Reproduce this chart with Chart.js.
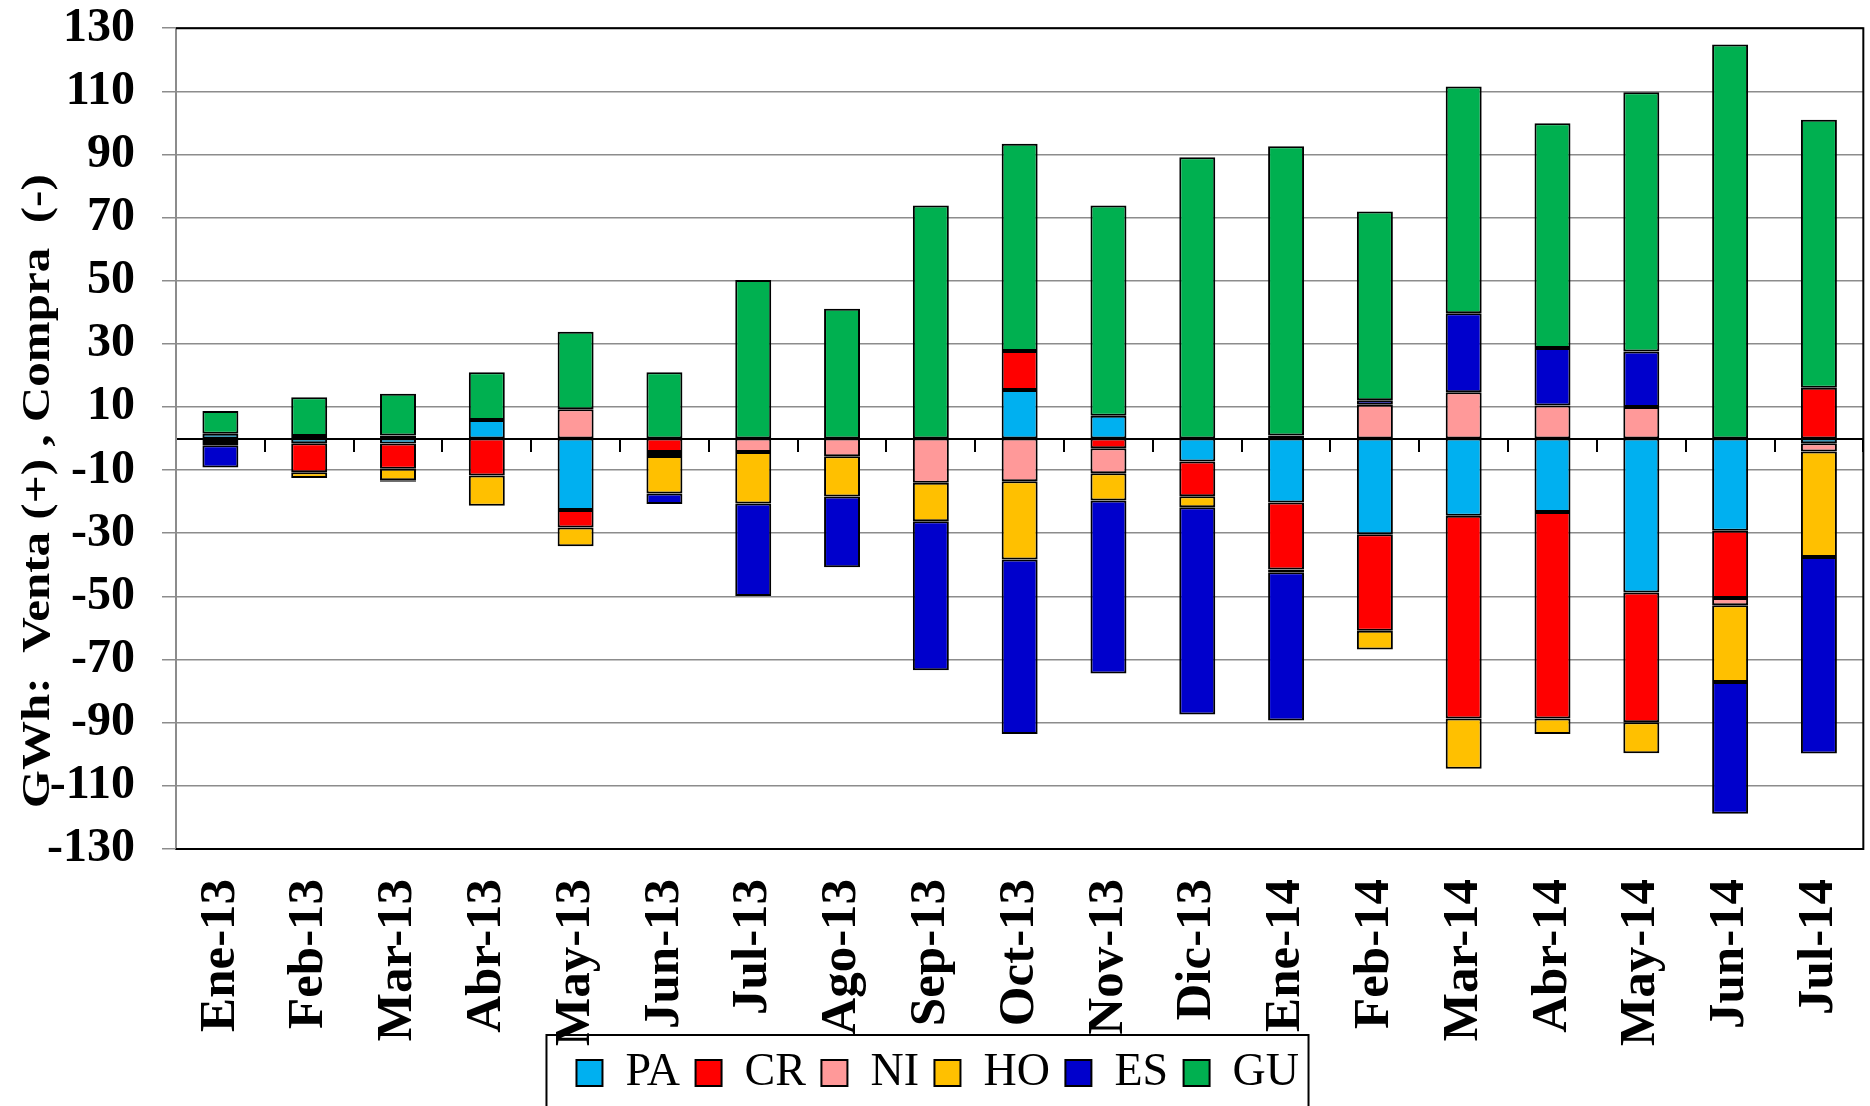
<!DOCTYPE html>
<html>
<head>
<meta charset="utf-8">
<script src="https://cdn.jsdelivr.net/npm/chart.js@4.4.1/dist/chart.umd.min.js"></script>
<style>
    html, body { margin: 0; padding: 0; background: #fff; }
    #contenedor { width: 1870px; height: 1106px; position: relative; }
</style>
</head>
<body>
<div id="contenedor"><canvas id="graficoIntercambios"></canvas></div>
<script>
// Intercambios regionales por país, GWh (venta +, compra -)
const meses = ['Ene-13', 'Feb-13', 'Mar-13', 'Abr-13', 'May-13', 'Jun-13', 'Jul-13', 'Ago-13', 'Sep-13', 'Oct-13',
    'Nov-13', 'Dic-13', 'Ene-14', 'Feb-14', 'Mar-14', 'Abr-14', 'May-14', 'Jun-14', 'Jul-14'];

const valoresPA = [1.5, -1.5, -1.6, 5.9, -22.6, null, null, null, null, 15.4, 7.2, -7.3, -20.3, -30.3, -24.5, -23.3, -48.8, -29.2, -1.5];
const valoresCR = [-1.1, -9.2, -8.0, -11.7, -5.6, -4.3, null, null, null, 12.3, -3.1, -11.0, -21.2, -30.6, -64.2, -65.4, -41.1, -21.3, 16.1];
const valoresNI = [-1.0, null, 1.0, null, 9.3, -1.2, -4.3, -5.6, -14.0, -13.5, -7.9, null, 1.0, 10.7, 14.7, 10.5, 10.0, -2.3, -2.6];
const valoresHO = [null, -1.8, -3.6, -9.6, -5.9, -11.9, -16.3, -12.8, -12.2, -24.8, -8.6, -3.5, -0.9, -5.9, -15.9, -4.9, -9.8, -24.3, -33.4];
const valoresES = [-7.1, 0.8, -0.5, null, null, -3.3, -29.3, -22.4, -47.2, -55.3, -54.8, -65.6, -46.9, 1.4, 25.0, 18.2, 17.6, -41.8, -62.3];
const valoresGU = [7.2, 12.3, 13.2, 15.1, 24.5, 21.0, 50.2, 41.1, 73.8, 65.7, 66.6, 89.1, 91.6, 59.8, 71.8, 71.2, 82.1, 124.8, 84.9];

const textoEjeY = 'GWh:  Venta (+) , Compra  (-)';

// Título del eje Y (estirado como en el original)
const tituloEjeY = {
    id: 'tituloEjeY',
    afterDraw(chart) {
        const ctx = chart.ctx;
        const area = chart.chartArea;
        ctx.save();
        ctx.font = 'bold 41px "Liberation Serif"';
        const ancho = ctx.measureText(textoEjeY).width;
        ctx.translate(38, area.top + 463);
        ctx.rotate(-Math.PI / 2);
        ctx.scale(634 / ancho, 1);
        ctx.textAlign = 'center';
        ctx.textBaseline = 'middle';
        ctx.fillStyle = '#000';
        ctx.fillText(textoEjeY, 0, 0);
        ctx.restore();
    }
};

// Marco negro del área de trazado y recuadro de la leyenda
const marcos = {
    id: 'marcos',
    afterDraw(chart) {
        const ctx = chart.ctx;
        const area = chart.chartArea;
        ctx.save();
        ctx.strokeStyle = '#000';
        ctx.lineWidth = 2;
        ctx.beginPath();
        ctx.moveTo(area.left, area.top);
        ctx.lineTo(area.right, area.top);
        ctx.lineTo(area.right, area.bottom);
        ctx.lineTo(area.left, area.bottom);
        ctx.stroke();

        // el recuadro sube un poco sobre las etiquetas del eje X, como en el original
        const cajas = chart.legend.legendHitBoxes;
        if (cajas && cajas.length) {
            const izq = Math.min(...cajas.map(c => c.left)) - 30;
            const der = Math.max(...cajas.map(c => c.left + c.width)) - 2;
            ctx.strokeRect(izq, chart.legend.top - 11, der - izq, chart.height);
        }
        ctx.restore();
    }
};

document.addEventListener("DOMContentLoaded", function () {
    const ctx = document.getElementById('graficoIntercambios').getContext('2d');

    const serie = (etiqueta, datos, color) => ({
        label: etiqueta,
        data: datos,
        backgroundColor: color,
        borderColor: '#000',
        borderWidth: 2,
        borderSkipped: false,
        barPercentage: 0.405,
        categoryPercentage: 1
    });

    const etiquetasLeyenda = Chart.defaults.plugins.legend.labels.generateLabels;

    new Chart(ctx, {
        type: 'bar',
        data: {
            labels: meses,
            datasets: [
                serie('PA', valoresPA, '#00B0F0'),
                serie('CR', valoresCR, '#FF0000'),
                serie('NI', valoresNI, '#FF9999'),
                serie('HO', valoresHO, '#FFC000'),
                serie('ES', valoresES, '#0000CC'),
                serie('GU', valoresGU, '#00B050')
            ]
        },
        options: {
            responsive: true,
            maintainAspectRatio: false,
            animation: false,
            layout: {
                padding: { left: 20, top: 26, right: 3, bottom: 0 }
            },
            plugins: {
                tooltip: { enabled: false },
                legend: {
                    position: 'bottom',
                    labels: {
                        color: '#000',
                        font: { family: '"Liberation Serif"', size: 46, lineHeight: 1 },
                        boxWidth: 26,
                        boxHeight: 26,
                        padding: 4,
                        // separación extra tras cada nombre
                        generateLabels: (chart) => etiquetasLeyenda(chart).map(item => {
                            item.text = item.text + ' ';
                            return item;
                        })
                    }
                }
            },
            scales: {
                x: {
                    stacked: true,
                    grid: { display: true, drawOnChartArea: false, drawTicks: true, tickLength: 30, color: 'rgba(0,0,0,0)' },
                    border: { display: true, color: '#000', width: 2 },
                    ticks: {
                        color: '#000',
                        autoSkip: false,
                        minRotation: 90,
                        maxRotation: 90,
                        padding: 0,
                        font: { family: '"Liberation Serif"', size: 51, weight: 'bold', lineHeight: 1 }
                    }
                },
                ejeCero: {
                    type: 'category',
                    axis: 'x',
                    position: { y: 0 },
                    offset: true,
                    grid: { offset: true, drawOnChartArea: false, drawTicks: true, tickLength: 12, color: '#000', lineWidth: 2 },
                    border: { display: true, color: '#000', width: 2 },
                    ticks: { display: false }
                },
                y: {
                    stacked: true,
                    min: -130,
                    max: 130,
                    grid: { color: '#8c8c8c', lineWidth: 1.5, tickLength: 14 },
                    border: { display: true, color: '#8c8c8c', width: 2 },
                    ticks: {
                        stepSize: 20,
                        color: '#000',
                        padding: 27,
                        font: { family: '"Liberation Serif"', size: 48, weight: 'bold', lineHeight: 0.05 }
                    }
                }
            }
        },
        plugins: [tituloEjeY, marcos]
    });
});
</script>
</body>
</html>
